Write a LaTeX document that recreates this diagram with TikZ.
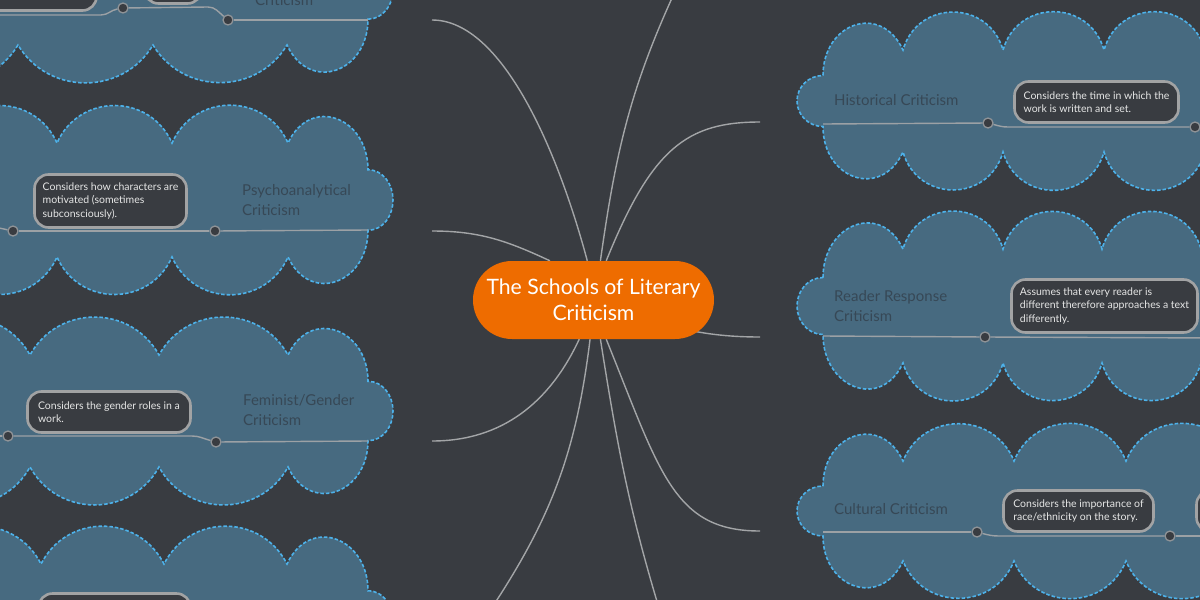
\documentclass[tikz,border=0pt]{standalone}
\usepackage{fontspec}
\setmainfont{Lato}
\usetikzlibrary{positioning}
\definecolor{bggray}{HTML}{393C41}
\definecolor{cloudfill}{HTML}{476A80}
\definecolor{cloudline}{HTML}{4DB2EA}
\definecolor{topictext}{HTML}{374856}
\definecolor{notefill}{HTML}{393C41}
\definecolor{noteline}{HTML}{A2A3A4}
\definecolor{notetext}{HTML}{E6E6E6}
\definecolor{dotline}{HTML}{8F9397}
\definecolor{linkgray}{HTML}{A3A5A7}
\definecolor{linegray}{HTML}{9CA1A5}
\definecolor{huborange}{HTML}{EE6C00}
\pgfdeclarelayer{back}
\pgfdeclarelayer{links}
\pgfsetlayers{back,links,main}
\newcommand{\topicfont}{\fontsize{15}{20}\selectfont}
\newcommand{\notefont}{\fontsize{10.5}{13.3}\selectfont}
\newcommand{\hubfont}{\fontsize{21.2}{26}\selectfont}
\newdimen\mmdotsize
\setlength{\mmdotsize}{10pt}
\tikzstyle{dotstyle}=[shape=circle,draw=dotline,fill=notefill,line width=1.3pt,minimum size=\mmdotsize,inner sep=0pt]
\tikzstyle{notestyle}=[shape=rectangle,rounded corners=14pt,draw=noteline,fill=notefill,line width=2.6pt,text=notetext,align=left,inner xsep=7pt,inner ysep=5pt,font=\notefont]
\tikzstyle{topicstyle}=[anchor=west,align=left,text=topictext,inner sep=0pt,font=\topicfont]
\tikzstyle{hubstyle}=[shape=rectangle,rounded corners=39pt,fill=huborange,text=white,align=center,minimum width=241pt,minimum height=78pt,font=\hubfont]
\tikzstyle{linkstyle}=[draw=linkgray,line width=1.4pt]
\tikzstyle{underline}=[draw=linegray,line width=1.4pt]
\tikzstyle{cloudstyle}=[fill=cloudfill,draw=cloudline,line width=1.6pt,dash pattern=on 3.5pt off 2pt]
\tikzset{scallop/.style 2 args={bend left=#1,looseness=#2}}
% #1 centre y, #2 half height, #3-#5 cusps, #6 bend, #7 looseness
\newcommand{\lcloud}[7]{ \path[style=cloudstyle] ({2*#3-#4-150},{#2-(#1)}) -- ({2*#3-#4},{#2-(#1)}) to[scallop={#6}{#7}] (#3,{#2-(#1)}) to[scallop={#6}{#7}] (#4,{#2-(#1)}) to[scallop={#6}{#7}] (#5,{#2-(#1)}) to[out=65,in=90,looseness=1.6] (368,{0.53*#2-(#1)}) to[out=0,in=90] (393,{-(#1)}) to[out=-90,in=0] (368,{-0.53*#2-(#1)}) to[out=-90,in=-65,looseness=1.6] (#5,{-#2-(#1)}) to[scallop={#6}{#7}] (#4,{-#2-(#1)}) to[scallop={#6}{#7}] (#3,{-#2-(#1)}) to[scallop={#6}{#7}] ({2*#3-#4},{-#2-(#1)}) -- ({2*#3-#4-150},{-#2-(#1)}) -- cycle; }
\newcommand{\rcloud}[7]{ \path[style=cloudstyle] (823,{0.5*#2-(#1)}) to[out=90,in=115,looseness=1.6] (#3,{#2-(#1)}) to[scallop={#6}{#7}] (#4,{#2-(#1)}) to[scallop={#6}{#7}] (#5,{#2-(#1)}) to[scallop={#6}{#7}] ({2*#5-#4},{#2-(#1)}) -- ({2*#5-#4+150},{#2-(#1)}) -- ({2*#5-#4+150},{-#2-(#1)}) -- ({2*#5-#4},{-#2-(#1)}) to[scallop={#6}{#7}] (#5,{-#2-(#1)}) to[scallop={#6}{#7}] (#4,{-#2-(#1)}) to[scallop={#6}{#7}] (#3,{-#2-(#1)}) to[out=-115,in=-90,looseness=1.6] (823,{-0.5*#2-(#1)}) to[out=180,in=-90] (797,{-(#1)}) to[out=90,in=180] (823,{0.5*#2-(#1)}) -- cycle; }
\newcommand{\mmdot}[3]{ \draw (#2,{-(#3)}) node [style=dotstyle] (#1) {}; }
\newcommand{\mmnote}[6]{ \draw (#2,{-(#3)}) node [style=notestyle,minimum width=#4pt,minimum height=#5pt] (#1) {#6}; }
\newcommand{\mmtopic}[4]{ \draw (#2,{-(#3)}) node [style=topicstyle] (#1) {#4}; }
\newcommand{\mmlink}[3]{ \coordinate (#1) at (#2,{-(#3)}); }

\begin{document}
\begin{tikzpicture}[x=1pt,y=1pt]
\useasboundingbox (0,0) rectangle (1200,-600);
\begin{pgfonlayer}{back}
\fill[bggray] (0,0) rectangle (1200,-600);
\lcloud{-10}{55}{18}{153}{287}{59}{1.12} %
\lcloud{200}{57}{57}{172}{288}{66}{1.22} %
\lcloud{411}{56}{30}{159}{288}{61}{1.15} %
\lcloud{621}{57}{41}{164}{287}{63}{1.18} %
\rcloud{101}{51}{903}{1003}{1104}{74}{1.35} %
\rcloud{306}{57}{903}{1003}{1102}{74}{1.35} %
\rcloud{511}{50}{903}{1014}{1126}{68}{1.24} %
\end{pgfonlayer}
% centre topic
\draw (593.5,-300) node [style=hubstyle] (hub) {The Schools of Literary\\Criticism};
\mmlink{archLink}{432}{20} %
\mmlink{psyLink}{432}{231} %
\mmlink{femLink}{432}{441} %
\mmlink{lowLink}{485}{618} %
\mmlink{topLink}{678}{-15} %
\mmlink{histLink}{760}{122} %
\mmlink{rrLink}{760}{337} %
\mmlink{culLink}{760}{531} %
\mmlink{botLink}{662}{618} %
\begin{pgfonlayer}{links}
\draw[style=linkstyle] (hub.99) to[out=105,in=0,out looseness=1,in looseness=0.63] (archLink);
\draw[style=linkstyle] (hub.138) to[out=155,in=0] (psyLink);
\draw[style=linkstyle] (hub.250) to[out=-115,in=0] (femLink);
\draw[style=linkstyle] (hub.265) to[out=-97,in=56] (lowLink);
\draw[style=linkstyle] (hub.80) to[out=82,in=-115] (topLink);
\draw[style=linkstyle] (hub.72) to[out=68,in=180,out looseness=1.5,in looseness=0.9] (histLink);
\draw[style=linkstyle] (hub.center) to[out=-20,in=180] (rrLink);
\draw[style=linkstyle] (hub.-72) to[out=-68,in=180,out looseness=1.5,in looseness=0.9] (culLink);
\draw[style=linkstyle] (hub.-80) to[out=-81,in=107] (botLink);
\end{pgfonlayer}
% left side
\mmtopic{archTopic}{255}{0}{Criticism} %
\mmdot{archDot}{228}{20} %
\mmdot{archNoteDot}{123}{8} %
\mmlink{archEnd}{368}{20} %
\mmlink{archOut}{-10}{15} %
\draw[style=underline] (archEnd) -- (archDot);
\draw[style=underline] (archDot) to[out=140,in=0] ++(-20,13) -- (archNoteDot);
\draw[style=underline] (archNoteDot) to[out=190,in=0] ++(-22,-7) -- (archOut);
\mmnote{archNoteA}{19}{-10}{155}{41}{} %
\mmnote{archNoteB}{173}{-17}{57}{41}{} %
\mmtopic{psyTopic}{242}{200}{Psychoanalytical\\Criticism} %
\mmdot{psyDot}{215}{231} %
\mmdot{psyNoteDot}{13}{231} %
\mmlink{psyEnd}{368}{230} %
\mmlink{psyOut}{-10}{226} %
\draw[style=underline] (psyEnd) -- (psyDot);
\draw[style=underline] (psyDot) -- (psyNoteDot);
\draw[style=underline] (psyNoteDot) -- (psyOut);
\mmnote{psyNote}{110.5}{201}{152}{53}{Considers how characters are\\motivated (sometimes\\subconsciously).} %
\mmtopic{femTopic}{243}{410.5}{Feminist/Gender\\Criticism} %
\mmdot{femDot}{216}{442} %
\mmdot{femNoteDot}{8}{436} %
\mmlink{femEnd}{368}{441} %
\mmlink{femOut}{-10}{436} %
\draw[style=underline] (femEnd) -- (femDot);
\draw[style=underline] (femDot) to[out=165,in=0] ++(-24,6) -- (femNoteDot);
\draw[style=underline] (femNoteDot) -- (femOut);
\mmnote{femNote}{109}{412}{163}{41}{Considers the gender roles in a\\work.} %
\mmnote{lowNote}{114.5}{614}{152}{41}{} %
% right side
\mmtopic{histTopic}{834}{100}{Historical Criticism} %
\mmdot{histDot}{988}{123} %
\mmdot{histNoteDot}{1195}{127} %
\mmlink{histEnd}{823}{124} %
\mmlink{histOut}{1215}{127} %
\draw[style=underline] (histEnd) -- (histDot);
\draw[style=underline] (histDot) to[out=-15,in=180] ++(20,-4) -- (histNoteDot);
\draw[style=underline] (histNoteDot) -- (histOut);
\mmnote{histNote}{1096.5}{102}{164}{41}{Considers the time in which the\\work is written and set.} %
\mmtopic{rrTopic}{834}{306}{Reader Response\\Criticism} %
\mmdot{rrDot}{985}{337} %
\mmlink{rrEnd}{823}{336} %
\mmlink{rrOut}{1215}{338} %
\draw[style=underline] (rrEnd) -- (rrDot);
\draw[style=underline] (rrDot) -- (rrOut);
\mmnote{rrNote}{1104.5}{306}{186}{53}{Assumes that every reader is\\different therefore approaches a text\\differently.} %
\mmtopic{culTopic}{834}{509}{Cultural Criticism} %
\mmdot{culDot}{977}{532} %
\mmdot{culNoteDot}{1170}{536} %
\mmlink{culEnd}{823}{532} %
\mmlink{culOut}{1215}{536} %
\draw[style=underline] (culEnd) -- (culDot);
\draw[style=underline] (culDot) to[out=-15,in=180] ++(22,-4) -- (culNoteDot);
\draw[style=underline] (culNoteDot) -- (culOut);
\mmnote{culNote}{1078.5}{511}{150}{41}{Considers the importance of\\race/ethnicity on the story.} %
\mmnote{culNoteB}{1272.5}{511}{152}{41}{} %
\end{tikzpicture}
\end{document}
